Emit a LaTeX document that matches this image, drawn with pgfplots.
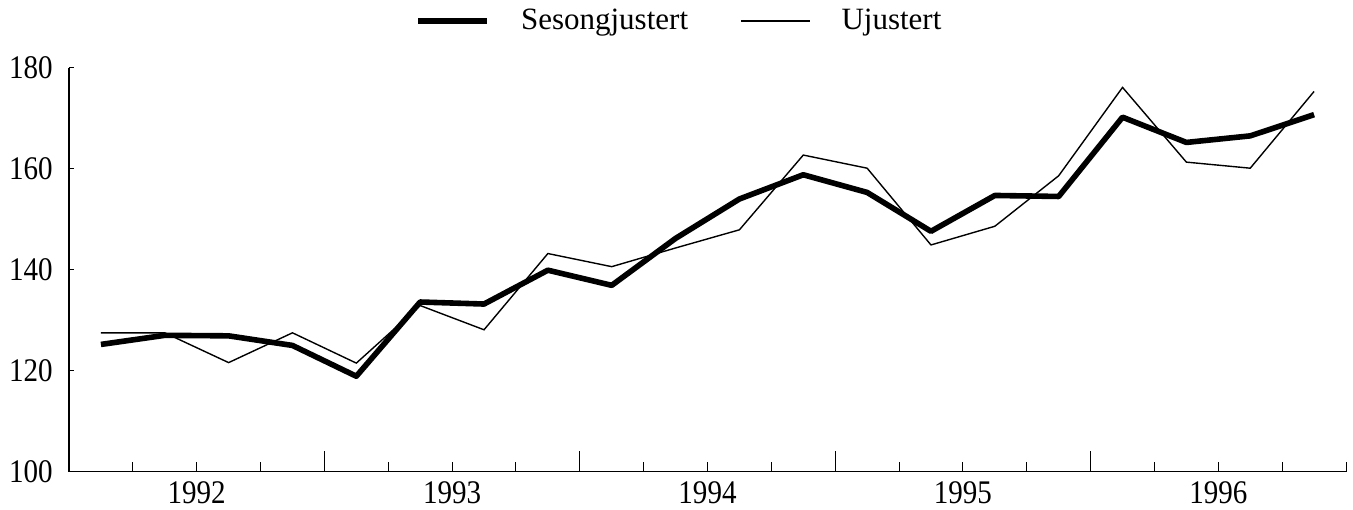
\documentclass[border=0pt]{standalone}
\usepackage{fontspec}
\setmainfont{Liberation Serif}
\newfontfamily\tickfont{Liberation Serif}[FakeStretch=0.88]
\usepackage{pgfplots}
\pgfplotsset{compat=1.18}
\begin{document}
\begin{tikzpicture}
\begin{axis}[
  name=ax,
  scale only axis,
  width=638.5pt, height=202pt,
  xmin=0, xmax=20, ymin=100, ymax=180,
  axis lines=left,
  axis line style={-, line width=0.6pt},
  tick align=inside,
  tick style={line width=0.5pt, black},
  xtick={2,6,10,14,18},
  xticklabels={1992,1993,1994,1995,1996},
  minor xtick={1,3,5,7,9,11,13,15,17,19,20},
  extra x ticks={4,8,12,16},
  extra x tick labels={},
  extra x tick style={major tick length=10.5pt},
  major tick length=5pt,
  minor tick length=5pt,
  ytick={100,120,140,160,180},
  ytick style={/pgfplots/major tick length=2.5pt},
  /pgf/number format/assume math mode=true,
  tick label style={font=\tickfont\fontsize{16.5}{17}\selectfont},
  yticklabel style={anchor=east, inner sep=0pt, xshift=-8pt},
  xticklabel style={anchor=north, inner sep=0pt, yshift=-5pt},
  legend columns=2,
  legend style={draw=none, at={(0.271,1.1156)}, anchor=west, inner sep=0pt,
    font=\fontsize{15.5}{16}\selectfont,
    nodes={inner sep=0pt},
    /tikz/every odd column/.append style={column sep=15.5pt},
    /tikz/every even column/.append style={column sep=26pt}},
  legend image code/.code={\draw[#1] (0pt,0pt) -- (34.5pt,0pt);},
]
\addplot[black, line width=2.8pt, line join=round] coordinates {
(0.5,125.2) (1.5,127.0) (2.5,126.9) (3.5,125.0) (4.5,118.9) (5.5,133.6) (6.5,133.2) (7.5,139.9) (8.5,136.9) (9.5,146.2)
(10.5,154.0) (11.5,158.8) (12.5,155.3) (13.5,147.6) (14.5,154.7) (15.5,154.5) (16.5,170.2) (17.5,165.2) (18.5,166.5) (19.5,170.7)};
\addlegendentry{Sesongjustert}
\addplot[black, line width=0.7pt] coordinates {
(0.5,127.5) (1.5,127.5) (2.5,121.6) (3.5,127.5) (4.5,121.5) (5.5,132.9) (6.5,128.1) (7.5,143.2) (8.5,140.6) (9.5,144.3)
(10.5,147.9) (11.5,162.7) (12.5,160.1) (13.5,144.9) (14.5,148.6) (15.5,158.6) (16.5,176.1) (17.5,161.3) (18.5,160.1) (19.5,175.3)};
\addlegendentry{Ujustert}
\end{axis}
\pgfresetboundingbox
\path ([xshift=-34.5pt,yshift=-19pt]ax.south west) rectangle ([xshift=3.5pt,yshift=33.85pt]ax.north east);
\end{tikzpicture}
\end{document}
